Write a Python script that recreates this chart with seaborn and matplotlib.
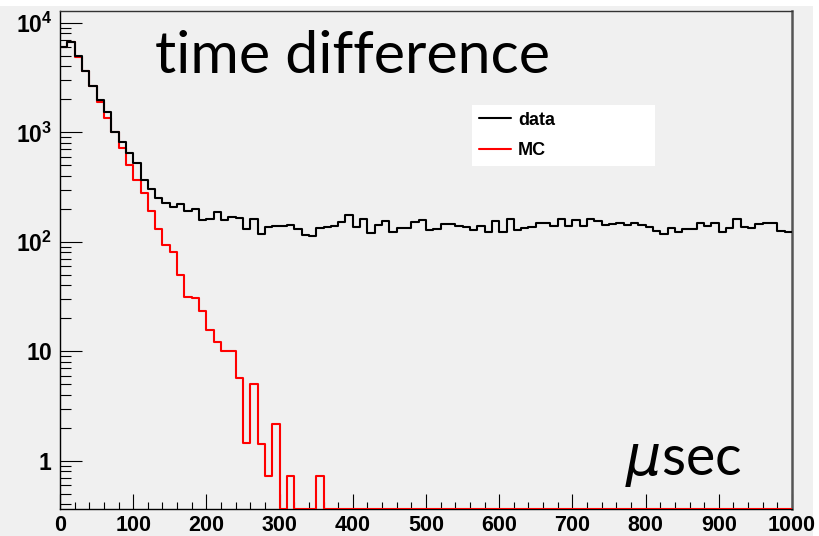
import numpy as np
import pandas as pd
import matplotlib
matplotlib.use("Agg")
import matplotlib.pyplot as plt
import seaborn as sns
from matplotlib.ticker import MultipleLocator, FixedLocator, LogLocator, NullFormatter
from matplotlib.lines import Line2D
from matplotlib.patches import Rectangle

# ---------------- data (10 µs bins, 0..1000 µs) ----------------
N_BINS = 100
T_RANGE = (0, 1000)
bin_centers = np.arange(5, 1000, 10)

data_counts = [
    5970, 6730, 4980, 3630, 2650, 1970, 1530, 1010, 821, 643,
    528, 367, 305, 252, 225, 210, 220, 192, 198, 158,
    163, 186, 158, 168, 165, 131, 160, 119, 136, 139,
    139, 141, 131, 115, 112, 133, 137, 139, 153, 176,
    136, 160, 121, 143, 156, 123, 133, 133, 153, 158,
    128, 130, 145, 145, 139, 136, 128, 139, 124, 156,
    124, 161, 128, 133, 137, 150, 147, 139, 160, 139,
    158, 139, 160, 156, 143, 145, 147, 143, 147, 141,
    137, 126, 119, 133, 123, 131, 131, 147, 139, 147,
    124, 133, 160, 137, 133, 145, 147, 150, 126, 122,
]

mc_counts = [
    6050, 6730, 4910, 3600, 2650, 1900, 1340, 1010, 714, 507,
    364, 279, 191, 131, 93, 80, 50, 31.5, 30.9, 23.5,
    15.7, 12.1, 10, 10, 5.7, 1.45, 5.0, 1.42, 0.73, 2.15,
    0, 0.73, 0, 0, 0, 0.73, 0, 0, 0, 0,
] + [0] * 60

legend_labels = ["data", "MC"]
title_text = "time difference"
unit_text = r"$\mu$sec"
ytick_values = [1, 10, 100, 1000, 10000]
ytick_labels = [r"$1$", r"$10$", r"$10^{2}$", r"$10^{3}$", r"$10^{4}$"]

YMIN, YMAX = 0.363, 12900

# ---------------- style ----------------
sns.set_style("ticks")
plt.rcParams["font.family"] = ["Liberation Sans", "DejaVu Sans"]
plt.rcParams["mathtext.fontset"] = "custom"
plt.rcParams["mathtext.rm"] = "Liberation Sans:bold"
plt.rcParams["mathtext.bf"] = "Liberation Sans:bold"
plt.rcParams["mathtext.it"] = "DejaVu Sans:italic"

W, H = 819, 536
BG = "#f0f0f0"
fig = plt.figure(figsize=(W / 100, H / 100), dpi=100, facecolor="white")
fig.add_artist(Rectangle((0, 0), 813 / W, 530 / H, transform=fig.transFigure,
                         facecolor=BG, edgecolor="none", zorder=-10))

ax_l, ax_r, ax_t, ax_b = 60, 792, 10.7, 509
ax = fig.add_axes([ax_l / W, (H - ax_b) / H, (ax_r - ax_l) / W, (ax_b - ax_t) / H])
ax.set_facecolor(BG)

df = pd.DataFrame({
    "t": bin_centers,
    "data": np.asarray(data_counts, dtype=float),
    "MC": np.clip(np.asarray(mc_counts, dtype=float), YMIN, None),
})

lw = 1.5
sns.histplot(data=df, x="t", weights="MC", bins=N_BINS, binrange=T_RANGE,
             element="step", fill=False, color="#ff0000", linewidth=lw,
             ax=ax, zorder=3)
sns.histplot(data=df, x="t", weights="data", bins=N_BINS, binrange=T_RANGE,
             element="step", fill=False, color="black", linewidth=lw,
             ax=ax, zorder=4)

ax.set_yscale("log")
ax.set_xlim(*T_RANGE)
ax.set_ylim(YMIN, YMAX)
ax.set_xlabel("")
ax.set_ylabel("")

ax.xaxis.set_major_locator(MultipleLocator(100))
ax.xaxis.set_minor_locator(MultipleLocator(20))
ax.yaxis.set_major_locator(FixedLocator(ytick_values))
ax.set_yticklabels(ytick_labels)
ax.yaxis.set_minor_locator(LogLocator(base=10, subs=np.arange(2, 10), numticks=30))
ax.yaxis.set_minor_formatter(NullFormatter())

ax.tick_params(axis="x", which="major", direction="in", length=10.8, width=0.8,
               labelsize=15.5, pad=4, top=False, color="black", labelcolor="black")
ax.tick_params(axis="x", which="minor", direction="in", length=5, width=0.8,
               top=False, color="black")
ax.tick_params(axis="y", which="major", direction="in", length=15.6, width=0.8,
               labelsize=16.5, pad=5.5, right=False, color="black", labelcolor="black")
ax.tick_params(axis="y", which="minor", direction="in", length=7.7, width=0.8,
               right=False, color="black")
for lbl in ax.get_xticklabels():
    lbl.set_fontweight("bold")

for side, col, w in [("left", "black", 1.0), ("bottom", "black", 1.0),
                     ("top", "#333333", 1.0), ("right", "#555555", 1.8)]:
    ax.spines[side].set_visible(True)
    ax.spines[side].set_color(col)
    ax.spines[side].set_linewidth(w)

handles = [Line2D([], [], color="black", lw=lw), Line2D([], [], color="#ff0000", lw=lw)]
leg = ax.legend(handles=handles, labels=legend_labels, loc="upper left",
                bbox_to_anchor=(0.563, 0.688, 0.25, 0.123), mode="expand",
                borderaxespad=0, frameon=True, fancybox=False, facecolor="white",
                edgecolor="none", framealpha=1,
                prop={"weight": "bold", "size": 13, "family": "Liberation Sans"},
                handlelength=1.78, handletextpad=0.39, labelspacing=0.75, borderpad=0.375)
leg.get_frame().set_linewidth(0)
for t in leg.get_texts():
    t.set_color("black")

fig.text(155 / W, (H - 73.3) / H, title_text, fontfamily="Lato", fontsize=42.5,
         ha="left", va="baseline", color="black")
fig.text(625 / W, (H - 475) / H, unit_text, fontfamily="Lato", fontsize=40,
         ha="left", va="baseline", color="black")

fig.savefig("out.png", dpi=100, facecolor=fig.get_facecolor())
